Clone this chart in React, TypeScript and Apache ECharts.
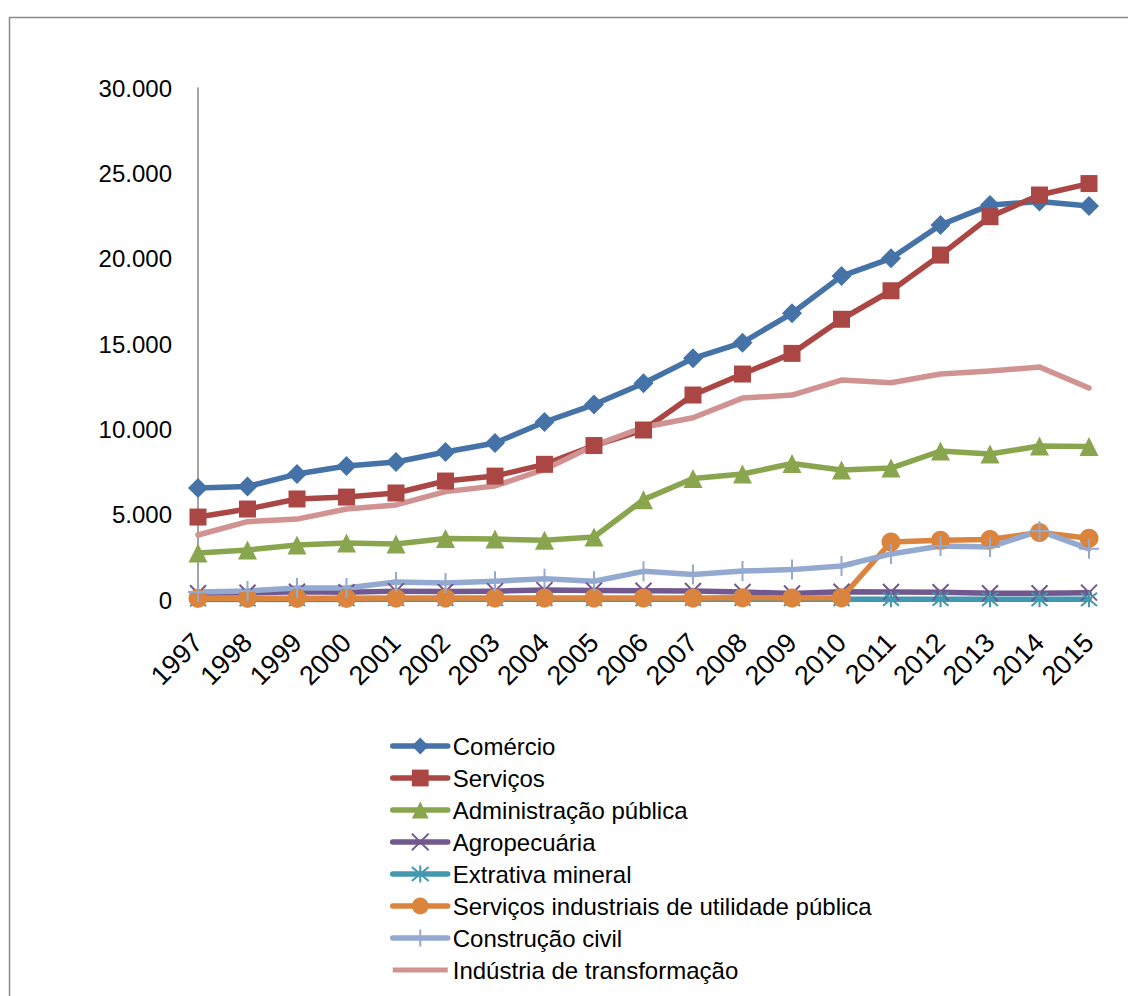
import React, { useEffect, useRef } from "react";
import * as echarts from "echarts";

const years = ["1997","1998","1999","2000","2001","2002","2003","2004","2005","2006","2007","2008","2009","2010","2011","2012","2013","2014","2015"];
const comercio = [6560, 6650, 7380, 7850, 8090, 8670, 9200, 10430, 11450, 12700, 14160, 15080, 16800, 18980, 20020, 21970, 23140, 23350, 23080];
const servicos = [4860, 5330, 5920, 6030, 6270, 6970, 7260, 7950, 9050, 9960, 12010, 13240, 14450, 16450, 18120, 20210, 22460, 23730, 24400];
const admPublica = [2750, 2930, 3220, 3340, 3280, 3600, 3570, 3500, 3690, 5880, 7120, 7380, 8000, 7620, 7730, 8730, 8550, 9020, 9000];
const agropecuaria = [400, 420, 480, 450, 520, 500, 520, 580, 560, 540, 530, 470, 380, 480, 470, 450, 400, 400, 430];
const extrativa = [30, 30, 35, 35, 40, 40, 40, 45, 45, 45, 50, 50, 45, 45, 50, 50, 45, 45, 40];
const servIndustriais = [100, 100, 100, 100, 110, 110, 110, 120, 120, 120, 120, 130, 120, 130, 3400, 3500, 3550, 3960, 3620];
const construcao = [470, 530, 700, 700, 1060, 1000, 1100, 1250, 1100, 1680, 1500, 1700, 1780, 1990, 2700, 3160, 3110, 4050, 3000];
const industria = [3810, 4590, 4740, 5330, 5570, 6350, 6680, 7650, 9050, 10120, 10680, 11830, 12010, 12890, 12730, 13240, 13420, 13650, 12420];
const yTicks = [0, 5000, 10000, 15000, 20000, 25000, 30000];

const FONT = "'Liberation Sans', Arial, sans-serif";

function fmt(v: number): string {
  const s = String(Math.round(v));
  return s.replace(/\B(?=(\d{3})+(?!\d))/g, ".");
}

const X_PATH = "path://M0,0L10,10M10,0L0,10";
const STAR_PATH = "path://M0,0L10,10M10,0L0,10M5,-1L5,11";
const PLUS_PATH = "path://M5,0L5,10M0,5L10,5";
const BAR_ICON = "path://M0,0L55,0L55,5L0,5Z";

function lineSeries(name: string, data: number[], color: string, symbol: string, size: number, stroke = false) {
  return {
    name,
    type: "line",
    data,
    symbol,
    symbolSize: size,
    showSymbol: symbol !== "none",
    lineStyle: { color, width: 5.5, cap: "round", join: "round" },
    itemStyle: stroke
      ? { color, borderColor: color, borderWidth: 2 }
      : { color, borderWidth: 0 },
    emphasis: { disabled: true },
  };
}

export default function App() {
  const ref = useRef<HTMLDivElement>(null);
  useEffect(() => {
    if (!ref.current) return;
    const chart = echarts.init(ref.current, undefined, { renderer: "svg" });
    chart.setOption({
      animation: false,
      backgroundColor: "#ffffff",
      textStyle: { fontFamily: FONT },
      graphic: [
        {
          type: "rect",
          shape: { x: 9.5, y: 17.5, width: 1140, height: 1000 },
          style: { fill: "none", stroke: "#8a8a8a", lineWidth: 1.5 },
          z: -10,
          silent: true,
        },
      ],
      grid: { left: 198, top: 88, width: 891, height: 512, containLabel: false },
      xAxis: {
        type: "category",
        data: years,
        boundaryGap: false,
        axisLine: { show: true, lineStyle: { color: "#868686", width: 1 } },
        axisTick: { show: false },
        axisLabel: {
          rotate: 45,
          fontSize: 27,
          color: "#000",
          fontFamily: FONT,
          margin: 38,
          interval: 0,
        },
        splitLine: { show: false },
      },
      yAxis: {
        type: "value",
        min: yTicks[0],
        max: yTicks[yTicks.length - 1],
        interval: 5000,
        axisLine: { show: true, lineStyle: { color: "#868686", width: 1.5 } },
        axisTick: { show: false },
        splitLine: { show: false },
        axisLabel: {
          fontSize: 24,
          color: "#000",
          fontFamily: FONT,
          margin: 26,
          formatter: (v: number) => fmt(v),
        },
      },
      legend: {
        orient: "vertical",
        left: 390,
        top: 734,
        padding: 0,
        itemWidth: 55,
        itemHeight: 21,
        itemGap: 8,
        lineStyle: { width: 5.5, cap: "round" },
        textStyle: { fontSize: 24, color: "#000", fontFamily: FONT },
        data: [
          "Comércio",
          "Serviços",
          "Administração pública",
          "Agropecuária",
          "Extrativa mineral",
          "Serviços industriais de utilidade pública",
          "Construção civil",
          { name: "Indústria de transformação", icon: BAR_ICON },
        ],
      },
      series: [
        lineSeries("Comércio", comercio, "#4572A7", "diamond", 20),
        lineSeries("Serviços", servicos, "#AA4643", "rect", 17),
        lineSeries("Administração pública", admPublica, "#89A54E", "triangle", 19),
        lineSeries("Agropecuária", agropecuaria, "#71588F", X_PATH, 16, true),
        lineSeries("Extrativa mineral", extrativa, "#4198AF", STAR_PATH, 16, true),
        lineSeries("Serviços industriais de utilidade pública", servIndustriais, "#DB843D", "circle", 19),
        lineSeries("Construção civil", construcao, "#93A9CF", PLUS_PATH, 20, true),
        lineSeries("Indústria de transformação", industria, "#D19392", "none", 0),
      ],
    });
    return () => chart.dispose();
  }, []);
  return (
    <div
      ref={ref}
      style={{ position: "fixed", left: 0, top: 0, width: 1128, height: 996, background: "#fff" }}
    />
  );
}
